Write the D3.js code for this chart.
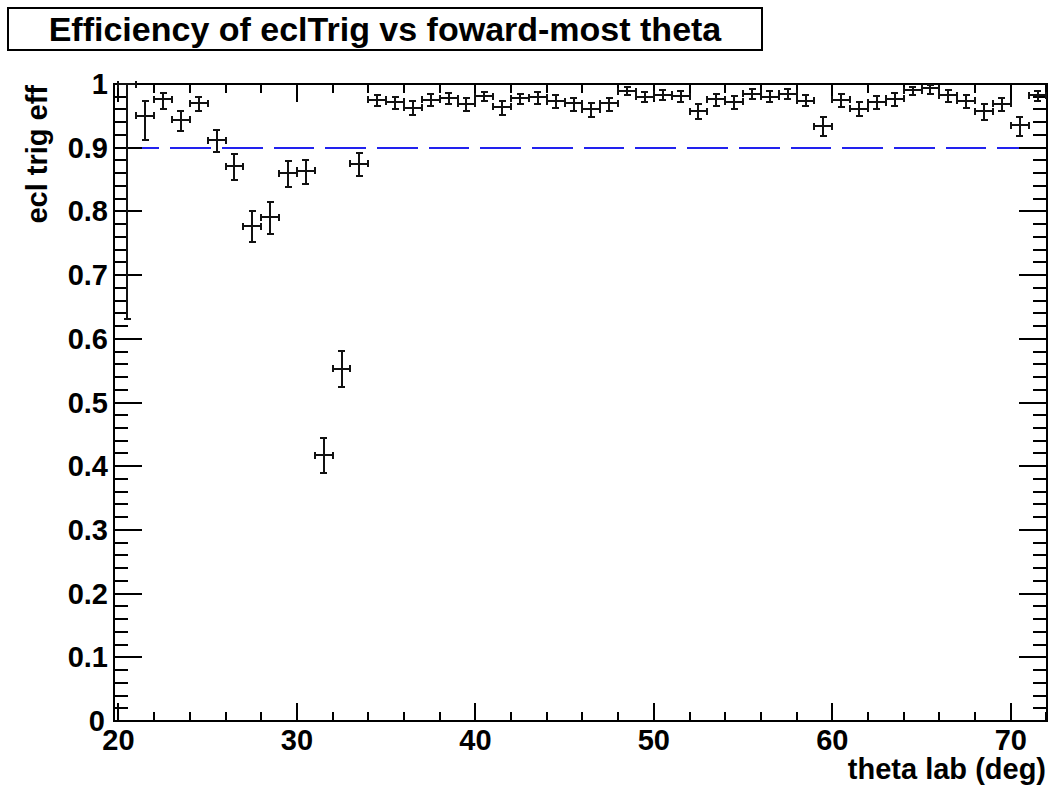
<!DOCTYPE html>
<html><head><meta charset="utf-8">
<script src="https://cdn.jsdelivr.net/npm/d3@7"></script>
<style>
html,body{margin:0;padding:0;background:#fff;}
text{font-family:"Liberation Sans",Arial,Helvetica,sans-serif;font-weight:bold;fill:#000;}
line,rect{shape-rendering:crispEdges;}
</style></head>
<body><svg id="c" width="1051" height="785"></svg>
<script>
// ---- data ----
const thetaBins = [20.5,21.5,22.5,23.5,24.5,25.5,26.5,27.5,28.5,29.5,30.5,31.5,32.5,33.5,34.5,35.5,36.5,37.5,38.5,39.5,40.5,41.5,42.5,43.5,44.5,45.5,46.5,47.5,48.5,49.5,50.5,51.5,52.5,53.5,54.5,55.5,56.5,57.5,58.5,59.5,60.5,61.5,62.5,63.5,64.5,65.5,66.5,67.5,68.5,69.5,70.5,71.5];
const efficiency = [1.000,0.950,0.976,0.944,0.970,0.912,0.871,0.777,0.791,0.860,0.864,0.417,0.553,0.875,0.975,0.972,0.963,0.975,0.978,0.969,0.981,0.964,0.978,0.979,0.973,0.970,0.960,0.970,0.989,0.980,0.983,0.981,0.957,0.976,0.972,0.985,0.980,0.985,0.974,0.934,0.975,0.961,0.971,0.977,0.990,0.993,0.982,0.974,0.957,0.969,0.935,0.982];
const errUp = [0.000,0.024,0.010,0.013,0.009,0.016,0.019,0.024,0.023,0.019,0.017,0.027,0.028,0.017,0.008,0.008,0.010,0.010,0.008,0.009,0.007,0.010,0.007,0.008,0.010,0.008,0.010,0.008,0.006,0.008,0.007,0.008,0.012,0.009,0.009,0.007,0.009,0.007,0.008,0.014,0.009,0.010,0.010,0.009,0.006,0.006,0.008,0.009,0.012,0.009,0.013,0.007];
const errLow = [0.369,0.038,0.015,0.017,0.013,0.019,0.021,0.025,0.026,0.021,0.021,0.027,0.028,0.019,0.010,0.012,0.012,0.010,0.009,0.011,0.008,0.012,0.009,0.010,0.010,0.012,0.012,0.013,0.007,0.009,0.008,0.009,0.012,0.010,0.011,0.008,0.008,0.008,0.009,0.016,0.011,0.012,0.011,0.011,0.008,0.008,0.010,0.011,0.014,0.012,0.016,0.009];
const binHalfWidth = 0.5;
const xTickLabels = ["20","30","40","50","60","70"];
const yTickLabels = ["0","0.1","0.2","0.3","0.4","0.5","0.6","0.7","0.8","0.9","1"];
const thresholdLine = {x0:20, x1:72, y:0.9};
const titleText = "Efficiency of eclTrig vs foward-most theta";
const xTitle = "theta lab (deg)";
const yTitle = "ecl trig eff";

// ---- layout ----
const L=114, R=1047, T=84, B=721;
const svg = d3.select("#c");
const x = d3.scaleLinear().domain([19.75,72.03]).range([L,R]);
const y = d3.scaleLinear().domain([0,1]).range([B,T]);

// title box
svg.append("rect").attr("x",9).attr("y",9).attr("width",754).attr("height",42).attr("fill","#555");
svg.append("rect").attr("x",8).attr("y",8).attr("width",754).attr("height",42).attr("fill","#fff").attr("stroke","#000").attr("stroke-width",1.2);
svg.append("text").attr("x",385).attr("y",41).attr("text-anchor","middle").style("font-size","34px").text(titleText);

// threshold dashed line
svg.append("line").attr("x1",x(thresholdLine.x0)).attr("x2",x(thresholdLine.x1))
  .attr("y1",y(thresholdLine.y)).attr("y2",y(thresholdLine.y))
  .attr("stroke","#2222ee").attr("stroke-width",2).attr("stroke-dasharray","40.7,11");

// axes ticks
const g = svg.append("g").attr("stroke","#000").attr("stroke-width",2);
const xMajor = xTickLabels.map(Number);
const xMinor = d3.range(20,72.01,2).filter(v=>!xMajor.includes(v));
function tk(x1,y1,x2,y2){g.append("line").attr("x1",x1).attr("y1",y1).attr("x2",x2).attr("y2",y2);}
xMajor.forEach(v=>{tk(x(v),B,x(v),B-18);tk(x(v),T,x(v),T+18);});
xMinor.forEach(v=>{tk(x(v),B,x(v),B-9);tk(x(v),T,x(v),T+9);});
const yMajor = yTickLabels.map(Number);
const yMinor = d3.range(0,1.0001,0.02).filter(v=>!yMajor.some(m=>Math.abs(m-v)<1e-6));
yMajor.forEach(v=>{tk(L,y(v),L+28,y(v));tk(R,y(v),R-28,y(v));});
yMinor.forEach(v=>{tk(L,y(v),L+14,y(v));tk(R,y(v),R-14,y(v));});

// frame
svg.append("rect").attr("x",L).attr("y",T).attr("width",R-L).attr("height",B-T)
  .attr("fill","none").attr("stroke","#000").attr("stroke-width",2);

// tick labels
svg.selectAll(".xl").data(xTickLabels).enter().append("text")
  .attr("x",d=>x(+d)).attr("y",750).attr("text-anchor","middle").style("font-size","29px").text(d=>d);
svg.selectAll(".yl").data(yTickLabels).enter().append("text")
  .attr("x",d=>+d===0?105:108).attr("y",d=>y(+d)+10).attr("text-anchor","end").style("font-size","29px").text(d=>d);

// axis titles
svg.append("text").attr("x",1046).attr("y",779).attr("text-anchor","end").style("font-size","29px").text(xTitle);
svg.append("text").attr("transform","translate(47,85) rotate(-90)").attr("text-anchor","end").style("font-size","29px").text(yTitle);

// data points with asymmetric error bars
const pts = svg.append("g").attr("stroke","#111").attr("stroke-width",2).attr("fill","none");
const cap = 3.5;
thetaBins.forEach((t,i)=>{
  const cx=x(t), cy=y(efficiency[i]);
  const xl=x(t-binHalfWidth), xr=x(t+binHalfWidth);
  const yt=y(efficiency[i]+errUp[i]), yb=y(efficiency[i]-errLow[i]);
  const p = pts.append("g");
  p.append("line").attr("x1",xl).attr("x2",xr).attr("y1",cy).attr("y2",cy);
  p.append("line").attr("x1",cx).attr("x2",cx).attr("y1",yt).attr("y2",yb);
  p.append("line").attr("x1",xl).attr("x2",xl).attr("y1",cy-cap).attr("y2",cy+cap);
  p.append("line").attr("x1",xr).attr("x2",xr).attr("y1",cy-cap).attr("y2",cy+cap);
  p.append("line").attr("x1",cx-cap).attr("x2",cx+cap).attr("y1",yt).attr("y2",yt);
  p.append("line").attr("x1",cx-cap).attr("x2",cx+cap).attr("y1",yb).attr("y2",yb);
});
</script></body></html>
